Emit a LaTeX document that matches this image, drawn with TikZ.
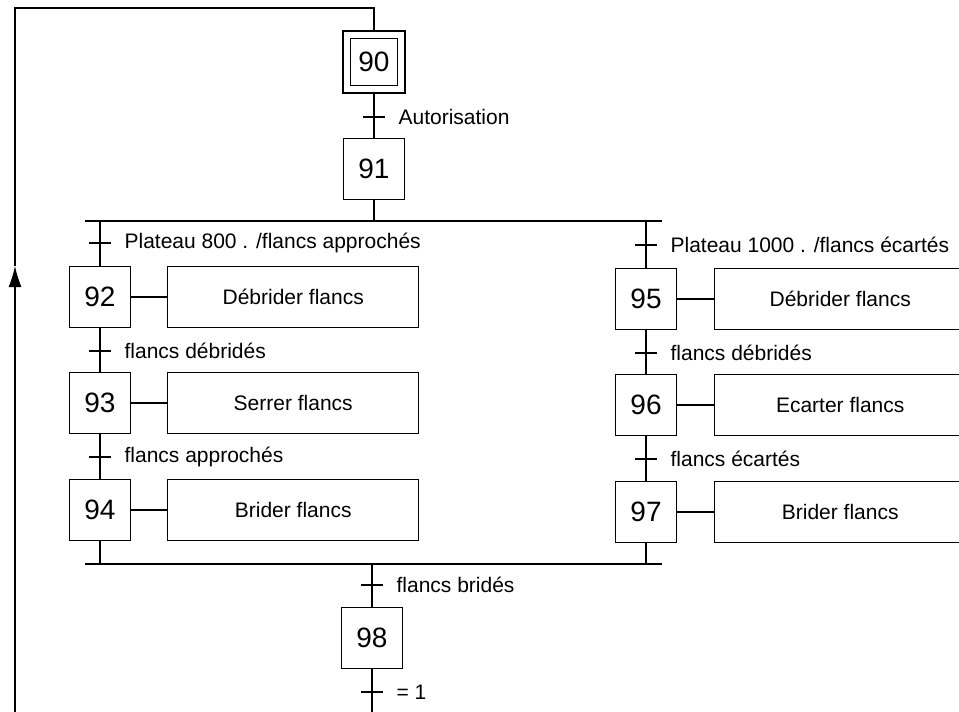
\documentclass[tikz,border=0pt]{standalone}
\usepackage{fontspec}
\setmainfont{Liberation Sans}
\usetikzlibrary{arrows.meta,positioning}
\tikzset{
  etape/.style={draw, minimum size=61pt, inner sep=0pt, font=\fontsize{28}{30}\selectfont},
  action/.style={draw, minimum width=251pt, minimum height=61pt, inner sep=0pt, font=\fontsize{21}{24}\selectfont},
  recept/.style={anchor=west, inner sep=0pt, font=\fontsize{21}{24}\selectfont},
  bar/.style={line width=2.4pt}
}

\begin{document}
\begin{tikzpicture}[x=1pt, y=-1pt, line width=1.2pt]
  \clip (0,0) rectangle (959,712);
  % initial step
  \node[draw, minimum size=62pt, inner sep=0pt] (s90) at (374,62) {};
  \node[etape, minimum size=47pt] (s90in) at (s90) {90};
  \node[etape] (s91) at (374,169) {91};
  % left branch
  \node[etape] (s92) at (100,297) {92};
  \node[etape] (s93) at (100,403) {93};
  \node[etape] (s94) at (100,510) {94};
  \node[action, right=36pt of s92] (a92) {D\'ebrider flancs};
  \node[action, right=36pt of s93] (a93) {Serrer flancs};
  \node[action, right=36pt of s94] (a94) {Brider flancs};
  % right branch
  \node[etape] (s95) at (646,299) {95};
  \node[etape] (s96) at (646,405) {96};
  \node[etape] (s97) at (646,512) {97};
  \node[action, right=37pt of s95] (a95) {D\'ebrider flancs};
  \node[action, right=37pt of s96] (a96) {Ecarter flancs};
  \node[action, right=37pt of s97] (a97) {Brider flancs};
  \node[etape] (s98) at (372,638) {98};
  % divergence / convergence
  \coordinate (divL) at (85,221);
  \coordinate (divR) at (662,221);
  \coordinate (conL) at (85,564);
  \coordinate (conR) at (662,564);
  \coordinate (bot) at (15,720);
  \coordinate (arr) at (15,266);
  \coordinate (top) at (15,8);
  \draw (divL) -- (divR);
  \draw (conL) -- (conR);
  \draw (s90) -- (s91) -- (s91 |- divL);
  \draw (s92 |- divL) -- (s92) -- (s93) -- (s94) -- (s94 |- conL);
  \draw (s95 |- divL) -- (s95) -- (s96) -- (s97) -- (s97 |- conL);
  \draw (s98 |- conL) -- (s98) -- (s98 |- bot);
  \foreach \s in {92,93,94,95,96,97}
    \draw (s\s) -- (a\s);
  % loop back
  \draw[-{Latex[length=21pt,width=13pt]}] (bot) -- (arr);
  \draw (arr) -- (top) -| (s90);
  % transitions
  \foreach \x/\y/\t/\n in {374/117/{Autorisation}/t1,
      100/243/{Plateau 800 . /flancs approch\'es}/t2,
      100/351/{flancs d\'ebrid\'es}/t3,
      100/457/{flancs approch\'es}/t4,
      646/245/{Plateau 1000 . /flancs \'ecart\'es}/t5,
      646/353/{flancs d\'ebrid\'es}/t6,
      646/459/{flancs \'ecart\'es}/t7,
      372/585/{flancs brid\'es}/t8,
      372/692/{= 1}/t9} {
    \draw[bar] (\x-11,\y) -- (\x+11,\y);
    \node[recept] (\n) at (\x+24,\y) {\t};
  }
\end{tikzpicture}
\end{document}
